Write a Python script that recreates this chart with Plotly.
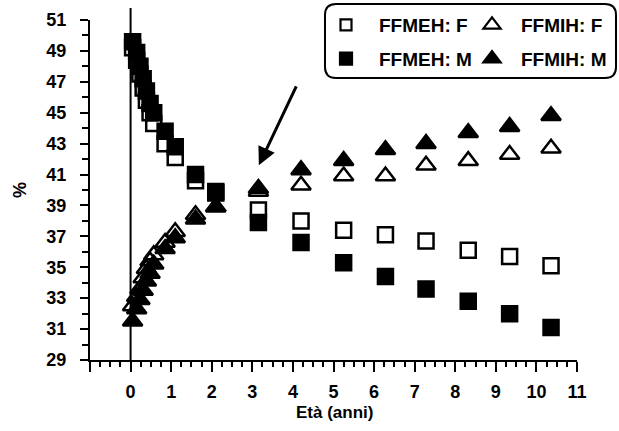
import plotly.graph_objects as go

# ---- data ----
age = [0.05, 0.15, 0.23, 0.31, 0.39, 0.48, 0.57, 0.85, 1.1, 1.6, 2.1,
       3.15, 4.2, 5.25, 6.28, 7.28, 8.32, 9.34, 10.36]
ffmeh_f = [49.2, 48.4, 47.5, 46.6, 45.8, 45.0, 44.3, 43.0, 42.1, 40.6, 39.8,
           38.7, 38.0, 37.4, 37.1, 36.7, 36.1, 35.7, 35.1]
ffmeh_m = [49.6, 48.9, 48.0, 47.2, 46.4, 45.6, 45.0, 43.8, 42.8, 41.0, 39.9,
           37.9, 36.6, 35.3, 34.4, 33.6, 32.8, 32.0, 31.1]
ffmih_f = [32.5, 33.1, 33.6, 34.3, 34.9, 35.4, 35.8, 36.6, 37.3, 38.4, 38.9,
           39.9, 40.3, 40.9, 40.9, 41.6, 41.9, 42.3, 42.7]
ffmih_m = [31.5, 32.3, 32.9, 33.5, 34.1, 34.6, 35.2, 36.2, 36.9, 38.1, 38.9,
           40.1, 41.3, 41.9, 42.6, 43.0, 43.7, 44.1, 44.8]

y_ticks = list(range(29, 52, 2))
x_ticks = list(range(-1, 12))
x_ticktext = [""] + [str(v) for v in range(0, 12)]

arrow_tip = (3.16, 41.6)
arrow_tail = (4.1, 46.8)

FONT = "Liberation Sans, Arial, Helvetica, sans-serif"
W, H = 619, 431
ML, MR, MT, MB = 90, 5, 5, 71
PW, PH = W - ML - MR, H - MT - MB          # paper area in px
def px(xp): return (xp - ML) / PW
def py(yp): return (H - MB - yp) / PH

fig = go.Figure()

def add(name, x, y, symbol, legend, rank, lsize):
    fig.add_trace(go.Scatter(x=x, y=y, mode="markers", showlegend=False,
                             marker=dict(symbol=symbol, size=15 if "square" in symbol else 17,
                                         color="black", line=dict(color="black", width=2.5)),
                             cliponaxis=False))
    fig.add_trace(go.Scatter(x=[None], y=[None], mode="markers", name=name,
                             legend=legend, legendrank=rank, legendgroup=name,
                             marker=dict(symbol=symbol, size=lsize, color="black",
                                         line=dict(color="black", width=2.2))))

add("FFMEH: F", age, ffmeh_f, "square-open", "legend", 1, 11)
add("FFMIH: F", age, ffmih_f, "triangle-up-open", "legend2", 1, 15)
add("FFMEH: M", age, ffmeh_m, "square", "legend", 2, 12)
add("FFMIH: M", age, ffmih_m, "triangle-up", "legend2", 2, 15)

axis_font = dict(family=FONT, size=18, color="black", weight="bold")
leg_font = dict(family=FONT, size=19, color="black", weight="bold")

fig.update_layout(
    width=W, height=H,
    margin=dict(l=ML, r=MR, t=MT, b=MB),
    paper_bgcolor="white", plot_bgcolor="white",
    font=dict(family=FONT, color="black"),
    xaxis=dict(range=[-1, 11], domain=[0, px(577)], automargin=False,
               tickvals=x_ticks, ticktext=x_ticktext,
               showline=True, linecolor="black", linewidth=2,
               ticks="outside", ticklen=10, tickwidth=2, tickcolor="black",
               minor=dict(dtick=0.25, tick0=0, ticks="outside", ticklen=5,
                          tickwidth=1.5, tickcolor="black"),
               showgrid=False, zeroline=False, tickfont=axis_font,
               ticklabelstandoff=4),
    yaxis=dict(range=[29, 51], domain=[0, py(20)], automargin=False,
               tickvals=y_ticks,
               showline=True, linecolor="black", linewidth=2,
               ticks="outside", ticklen=8, tickwidth=2, tickcolor="black",
               minor=dict(dtick=1, tick0=29, ticks="outside", ticklen=6,
                          tickwidth=1.5, tickcolor="black"),
               showgrid=False, zeroline=False, tickfont=axis_font,
               ticklabelstandoff=10),
    legend=dict(x=px(313), y=py(6), xanchor="left", yanchor="top",
                bgcolor="rgba(0,0,0,0)", itemwidth=56, tracegroupgap=6,
                font=leg_font),
    legend2=dict(x=px(463), y=py(6), xanchor="left", yanchor="top",
                 bgcolor="rgba(0,0,0,0)", itemwidth=48, tracegroupgap=6,
                 font=leg_font),
)

# axis titles
fig.add_annotation(text="Età (anni)", xref="paper", yref="paper", x=px(334), y=py(412),
                   xanchor="center", yanchor="middle", showarrow=False,
                   font=dict(family=FONT, size=17, color="black", weight="bold"))
fig.add_annotation(text="%", xref="paper", yref="paper", x=px(20), y=py(190),
                   xanchor="center", yanchor="middle", showarrow=False, textangle=-90,
                   font=dict(family=FONT, size=18, color="black", weight="bold"))

# vertical reference line at x = 0
fig.add_shape(type="line", xref="x", yref="paper", x0=0, x1=0, y0=0, y1=py(8),
              line=dict(color="black", width=2))

# rounded legend frame
x0, x1, y0, y1, r = 325, 616, 4, 78, 11
path = (f"M {px(x0 + r)} {py(y0)} L {px(x1 - r)} {py(y0)} "
        f"Q {px(x1)} {py(y0)} {px(x1)} {py(y0 + r)} L {px(x1)} {py(y1 - r)} "
        f"Q {px(x1)} {py(y1)} {px(x1 - r)} {py(y1)} L {px(x0 + r)} {py(y1)} "
        f"Q {px(x0)} {py(y1)} {px(x0)} {py(y1 - r)} L {px(x0)} {py(y0 + r)} "
        f"Q {px(x0)} {py(y0)} {px(x0 + r)} {py(y0)} Z")
fig.add_shape(type="path", xref="paper", yref="paper", path=path,
              line=dict(color="black", width=2), layer="below")

fig.add_annotation(x=arrow_tip[0], y=arrow_tip[1], ax=arrow_tail[0], ay=arrow_tail[1],
                   xref="x", yref="y", axref="x", ayref="y", text="",
                   showarrow=True, arrowhead=2, arrowsize=1.2, arrowwidth=3,
                   arrowcolor="black")

fig.write_html("out.html", config={"displayModeBar": False},
               post_script="document.body.style.margin='0';document.body.style.overflow='hidden';")
